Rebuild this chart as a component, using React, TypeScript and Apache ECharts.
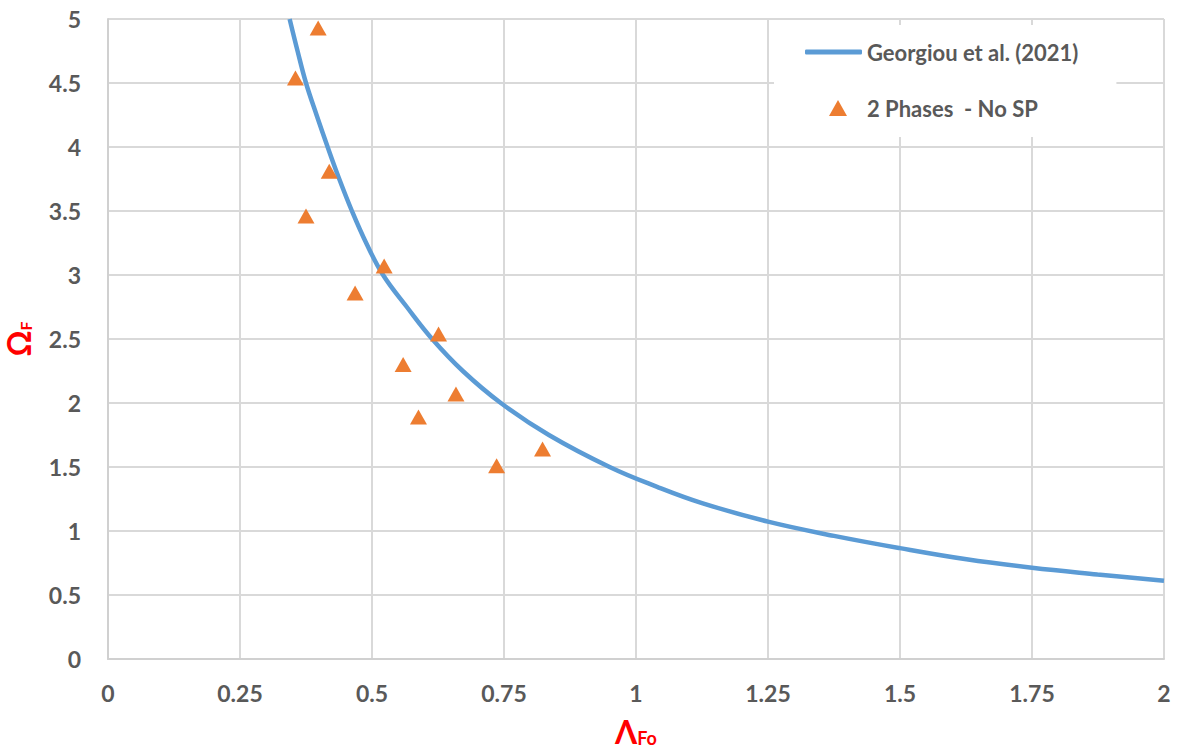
import React, { useEffect, useRef } from "react";
import * as echarts from "echarts";

const curveX = [0.344, 0.359, 0.375, 0.395, 0.416, 0.438, 0.462, 0.489, 0.521, 0.566, 0.614, 0.672, 0.744, 0.835, 0.95, 1.04, 1.125, 1.25, 1.375, 1.5, 1.626, 1.75, 1.874, 2.0];
const curveY = [5.0, 4.75, 4.5, 4.25, 4.0, 3.75, 3.5, 3.25, 3.0, 2.75, 2.5, 2.25, 2.0, 1.75, 1.5, 1.345, 1.218, 1.073, 0.962, 0.866, 0.779, 0.713, 0.661, 0.612];

const phaseX = [0.398, 0.355, 0.419, 0.375, 0.523, 0.468, 0.626, 0.559, 0.659, 0.588, 0.736, 0.823];
const phaseY = [4.93, 4.54, 3.81, 3.46, 3.07, 2.86, 2.54, 2.3, 2.07, 1.89, 1.51, 1.64];

const seriesNames = ["Georgiou et al. (2021)", "2 Phases  - No SP"];

const FONT = "Lato, 'Open Sans', sans-serif";
const GRAY = "#595959";
const BLUE = "#5B9BD5";
const ORANGE = "#ED7D31";

const legendText = { color: GRAY, fontSize: 22, fontWeight: "bold", fontFamily: FONT, lineHeight: 26 };

export default function App() {
  const ref = useRef<HTMLDivElement>(null);
  useEffect(() => {
    if (!ref.current) return;
    const chart = echarts.init(ref.current, null, { renderer: "svg" });
    chart.setOption({
      animation: false,
      backgroundColor: "#ffffff",
      grid: { left: 108, right: 14, top: 19, bottom: 93, containLabel: false, outerBoundsMode: "none" },
      legend: [
        {
          orient: "vertical",
          left: 774,
          top: 25,
          data: [seriesNames[0]],
          icon: "roundRect",
          itemWidth: 57,
          itemHeight: 5,
          backgroundColor: "#ffffff",
          padding: [14, 38, 72, 31],
          textStyle: legendText,
        },
        {
          orient: "vertical",
          left: 829,
          top: 95,
          data: [seriesNames[1]],
          icon: "triangle",
          itemWidth: 18,
          itemHeight: 16,
          padding: 0,
          textStyle: { ...legendText, padding: [0, 0, 0, 15] },
        },
      ],
      xAxis: {
        type: "value",
        min: 0,
        max: 2,
        interval: 0.25,
        name: "{a|Λ}{b|Fo}",
        nameLocation: "middle",
        nameGap: 55,
        nameTextStyle: {
          rich: {
            a: { fontSize: 32, fontWeight: "bold", color: "#FF0000", fontFamily: FONT, lineHeight: 34 },
            b: { fontSize: 18, fontWeight: "bold", color: "#FF0000", fontFamily: FONT, padding: [14, 0, 0, 0] },
          },
        },
        axisLine: { show: true, lineStyle: { color: "#D0D0D0", width: 2 } },
        axisTick: { show: false },
        axisLabel: { color: GRAY, fontSize: 23, fontWeight: "bold", fontFamily: FONT, margin: 22 },
        splitLine: { show: true, lineStyle: { color: "#D9D9D9", width: 2 } },
      },
      yAxis: {
        type: "value",
        min: 0,
        max: 5,
        interval: 0.5,
        name: "{a|Ω}{b|F}",
        nameLocation: "middle",
        nameRotate: 90,
        nameGap: 73,
        nameTextStyle: {
          rich: {
            a: { fontSize: 32, fontWeight: "bold", color: "#FF0000", fontFamily: FONT, lineHeight: 34 },
            b: { fontSize: 16, fontWeight: "bold", color: "#FF0000", fontFamily: FONT, padding: [14, 0, 0, 0] },
          },
        },
        axisLine: { show: true, lineStyle: { color: "#D0D0D0", width: 2 } },
        axisTick: { show: false },
        axisLabel: { color: GRAY, fontSize: 23, fontWeight: "bold", fontFamily: FONT, margin: 27 },
        splitLine: { show: true, lineStyle: { color: "#D9D9D9", width: 2 } },
      },
      series: [
        {
          name: seriesNames[0],
          type: "line",
          smooth: 0.4,
          symbol: "none",
          data: curveX.map((x, i) => [x, curveY[i]]),
          lineStyle: { color: BLUE, width: 4.5 },
          itemStyle: { color: BLUE },
          clip: true,
          z: 2,
        },
        {
          name: seriesNames[1],
          type: "scatter",
          symbol: "triangle",
          symbolSize: [17, 15],
          data: phaseX.map((x, i) => [x, phaseY[i]]),
          itemStyle: { color: ORANGE, opacity: 1 },
          z: 3,
        },
      ],
    });
    return () => chart.dispose();
  }, []);
  return <div ref={ref} style={{ position: "fixed", left: 0, top: 0, width: 1178, height: 752 }} />;
}
